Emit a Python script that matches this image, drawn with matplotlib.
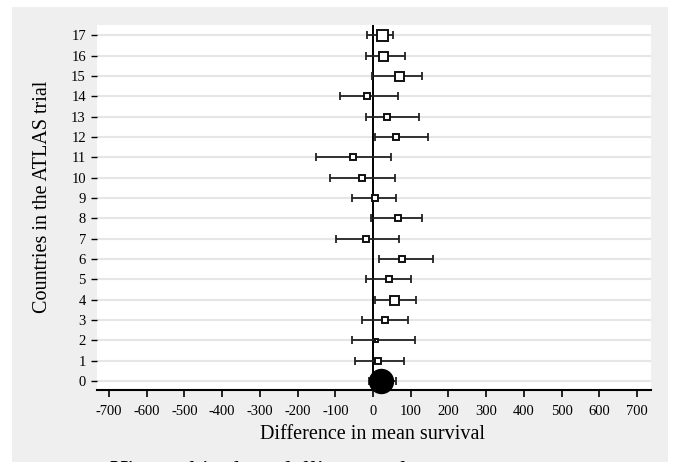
import matplotlib
matplotlib.use("Agg")
import matplotlib.pyplot as plt
from matplotlib.patches import Rectangle

# country rows (0 = pooled estimate)
rows = list(range(18))
estimate = [20, 12, 7, 31, 55, 42, 77, -19, 65, 4, -30, -53, 62, 38, -15, 69, 27, 24]
lower = [-10, -49, -57, -30, 4, -18, 16, -99, -6, -57, -113, -151, 4, -18, -87, -3, -18, -15]
upper = [60, 81, 110, 92, 115, 100, 160, 69, 130, 62, 58, 47, 145, 122, 65, 130, 85, 54]
# box sizes in pixels (row 0 drawn as filled circle)
box_px = [24, 6, 3, 6, 9, 6, 6, 6, 6, 6, 6, 6, 6, 6, 6, 9, 9, 11]

xticks = list(range(-700, 701, 100))

plt.rcParams["font.family"] = ["Liberation Serif", "DejaVu Serif"]

fig = plt.figure(figsize=(6.73, 4.62), dpi=100)
fig.patch.set_facecolor("white")
fig.patches.append(Rectangle((12 / 673, 0), 656 / 673, 1 - 7 / 462,
                             transform=fig.transFigure, facecolor="#efefef",
                             edgecolor="none", zorder=-5))

ax = fig.add_axes([97 / 673, 1 - 390 / 462, 554 / 673, 365 / 462])
ax.set_zorder(2)
ax.set_facecolor("white")

for r in rows:
    ax.axhline(r, color="#e6e6e6", linewidth=1.5, zorder=1)
ax.axvline(0, color="black", linewidth=1.4, zorder=2)

for r, est, lo, hi, px in zip(rows, estimate, lower, upper, box_px):
    ax.errorbar([est], [r], xerr=[[est - lo], [hi - est]], fmt="none",
                ecolor="#222222", elinewidth=1.3, capsize=2.6, capthick=1.3, zorder=3)
    if r == 0:
        ax.plot(est, r, "o", color="black", markersize=px * 0.72, zorder=4,
                clip_on=False)
    else:
        ax.plot(est, r, "s", markerfacecolor="white", markeredgecolor="#111111",
                markeredgewidth=1.4, markersize=px * 0.72, zorder=4)

ax.set_xlim(-732, 737)
ax.set_ylim(-0.45, 17.5)
ax.set_xticks(xticks)
ax.set_xticklabels([str(t) for t in xticks])
ax.set_yticks(rows)
ax.set_yticklabels([str(r) for r in rows])

for side in ("top", "right", "left"):
    ax.spines[side].set_visible(False)
ax.spines["bottom"].set_linewidth(1.5)
ax.tick_params(axis="x", direction="out", length=5, width=1.2, pad=6, labelsize=10.5)
ax.tick_params(axis="y", direction="out", length=4, width=1.0, pad=4, labelsize=10.5)

fig.text(372 / 673, 1 - 439 / 462, "Difference in mean survival", ha="center",
         va="baseline", fontsize=14.5)
fig.text(43 / 673, 1 - 197 / 462, "Countries in the ATLAS trial", ha="center",
         va="center", rotation=90, fontsize=14.5)
fig.text(107 / 673, 1 - 478 / 462, "Hierarchical modelling results", ha="left",
         va="baseline", fontsize=18.5, style="italic")

fig.savefig("out.png", dpi=100)
